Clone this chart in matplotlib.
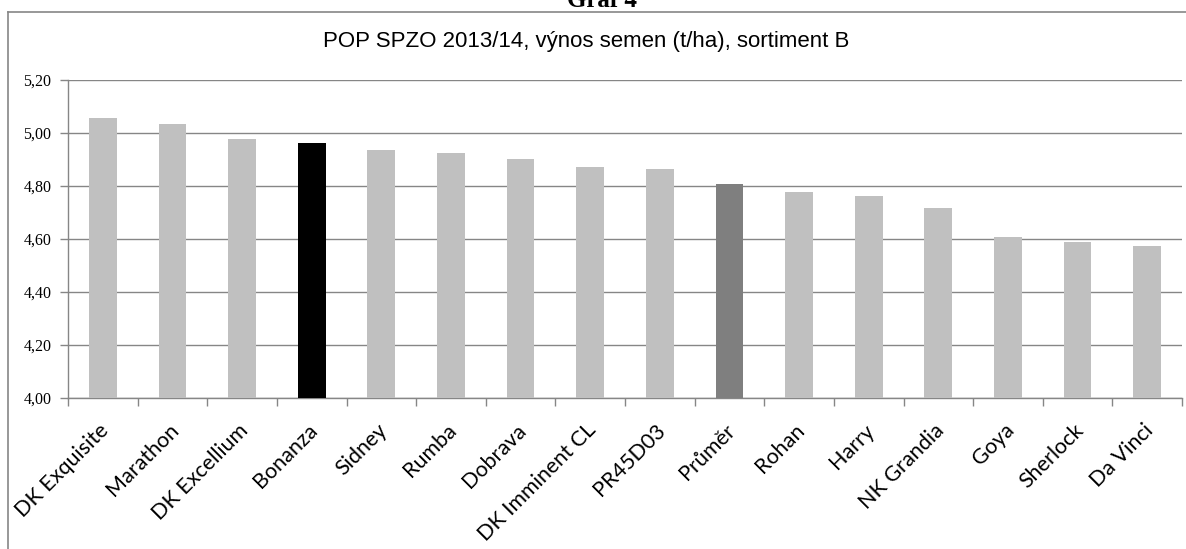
import matplotlib
matplotlib.use("Agg")
import matplotlib.pyplot as plt
from matplotlib.lines import Line2D
from matplotlib.ticker import FixedLocator, FuncFormatter

# Data
varieties = [
    "DK Exquisite", "Marathon", "DK Excellium", "Bonanza", "Sidney", "Rumba",
    "Dobrava", "DK Imminent CL", "PR45D03", "Průměr", "Rohan", "Harry",
    "NK Grandia", "Goya", "Sherlock", "Da Vinci",
]
yields = [
    5.056, 5.033, 4.978, 4.961, 4.936, 4.926,
    4.901, 4.873, 4.865, 4.806, 4.779, 4.761,
    4.718, 4.606, 4.589, 4.574,
]
highlight = {"Bonanza": "#000000", "Průměr": "#7f7f7f"}
y_ticks = [4.00, 4.20, 4.40, 4.60, 4.80, 5.00, 5.20]

W, H = 1186, 549
GRID = "#868686"

fig = plt.figure(figsize=(W / 100, H / 100), dpi=100)
ax = fig.add_axes([68 / W, 1 - 398 / H, (1182 - 68) / W, 318 / H])

colors = [highlight.get(v, "#c0c0c0") for v in varieties]
x = range(len(varieties))
ax.bar(x, yields, width=0.40, color=colors, zorder=3)

ax.set_xlim(-0.5, len(varieties) - 0.5)
ax.set_ylim(4.0, 5.2)

ax.yaxis.set_major_locator(FixedLocator(y_ticks))
ax.yaxis.set_major_formatter(FuncFormatter(lambda v, _: f"{v:.2f}".replace(".", ",")))
ax.grid(axis="y", color=GRID, lw=1.0, zorder=0)

# category boundary ticks on the x axis, labels at the centres
ax.set_xticks([i - 0.5 for i in range(len(varieties) + 1)])
ax.set_xticklabels([])
ax.set_xticks([i + 0.04 for i in x], minor=True)
ax.set_xticklabels(varieties, minor=True, rotation=45, ha="right", va="center",
                   rotation_mode="anchor", fontsize=15.5, family="Lato")
ax.tick_params(axis="x", which="minor", length=0, pad=21)
ax.tick_params(axis="x", which="major", length=6, color=GRID, width=1)
ax.tick_params(axis="y", length=6, color=GRID, width=1, pad=6)
for lab in ax.get_yticklabels():
    lab.set_family("Liberation Serif")
    lab.set_fontsize(11.5)

for side in ("top", "right"):
    ax.spines[side].set_visible(False)
for side in ("left", "bottom"):
    ax.spines[side].set_color(GRID)
    ax.spines[side].set_linewidth(1.0)

# chart-area frame (only left and top edges fall inside the picture)
fx0, fy0 = 8 / W, 1 - 12 / H
fig.add_artist(Line2D([fx0, fx0], [0, fy0], transform=fig.transFigure,
                      color=GRID, lw=1.2))
fig.add_artist(Line2D([fx0, 1.0], [fy0, fy0], transform=fig.transFigure,
                      color=GRID, lw=1.2))

fig.text(586 / W, 1 - 41 / H, "POP SPZO 2013/14, výnos semen (t/ha), sortiment B",
         ha="center", va="center", fontsize=16, family="Liberation Sans")
fig.text(602 / W, 1 - 7 / H, "Graf 4", ha="center", va="baseline",
         fontsize=18, fontweight="bold", family="Liberation Serif")

fig.savefig("out.png", dpi=100)
